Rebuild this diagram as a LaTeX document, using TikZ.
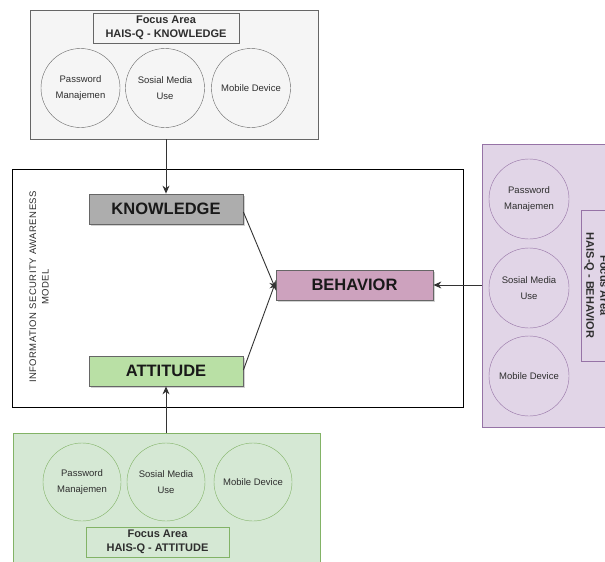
\documentclass[tikz,border=0pt]{standalone}
\usepackage{fontspec}
\setmainfont{Liberation Sans}
\usetikzlibrary{shadows,arrows.meta}
\definecolor{grayfill}{HTML}{F5F5F5}
\definecolor{grayline}{HTML}{666666}
\definecolor{knfill}{HTML}{ADADAD}
\definecolor{bhfill}{HTML}{CDA2BE}
\definecolor{atfill}{HTML}{B9E0A5}
\definecolor{purfill}{HTML}{E1D5E7}
\definecolor{purline}{HTML}{9673A6}
\definecolor{grnfill}{HTML}{D5E8D4}
\definecolor{grnline}{HTML}{82B366}
\definecolor{txt}{HTML}{2E2E2E}
\tikzset{
  item/.style={circle, draw, minimum size=79pt, inner sep=0pt, align=center,
    text=txt, font=\fontsize{9.5}{16}\selectfont},
  titlebox/.style={draw, thick, minimum width=146pt, minimum height=30pt, inner sep=0pt,
    align=center, font=\bfseries\fontsize{11}{14}\selectfont, text=txt},
  factor/.style={draw=grayline, thick, minimum width=154pt, minimum height=30pt, inner sep=0pt,
    font=\bfseries\fontsize{16.5}{18}\selectfont, text=black!90,
    drop shadow={shadow xshift=1.5pt, shadow yshift=-1.5pt, opacity=0.35}},
  conn/.style={-{Stealth[length=8pt,width=7pt]}, line width=0.9pt, draw=black!80}
}
\begin{document}
\begin{tikzpicture}[x=1pt,y=-1pt]
\useasboundingbox (0,0) rectangle (605,562);
\clip (0,0) rectangle (605,562);
% top knowledge focus area
\node[draw=grayline, fill=grayfill, thick, minimum width=288pt, minimum height=129pt, inner sep=0pt] (kfa) at (174,74.5) {};
\node[titlebox, draw=grayline, fill=grayfill] (kft) at (166,28) {Focus Area\\HAIS-Q - KNOWLEDGE};
\node[item, draw=grayline] (k1) at (80.5,88) {Password\\Manajemen};
\node[item, draw=grayline] (k2) at (165,88) {Sosial Media\\Use};
\node[item, draw=grayline] (k3) at (251,88) {Mobile Device};
% main model box
\node[draw=black, fill=white, thick, minimum width=451pt, minimum height=238pt, inner sep=0pt] (model) at (237.5,288) {};
\node[rotate=90, align=center, text=txt, font=\addfontfeatures{LetterSpace=5}\fontsize{9.5}{12.5}\selectfont] (mlabel) at (39,287) {INFORMATION SECURITY AWARENESS\\MODEL};
\node[factor, fill=knfill] (kn) at (166,209) {KNOWLEDGE};
\node[factor, fill=bhfill, minimum width=157pt] (bh) at (354.5,285) {BEHAVIOR};
\node[factor, fill=atfill] (at) at (166,371) {ATTITUDE};
% right behavior focus area
\node[draw=purline, fill=purfill, thick, minimum width=140pt, minimum height=283pt, inner sep=0pt] (bfa) at (552,285.5) {};
\node[item, draw=purline, minimum size=80pt] (b1) at (529,199) {Password\\Manajemen};
\node[item, draw=purline, minimum size=80pt] (b2) at (529,288) {Sosial Media\\Use};
\node[item, draw=purline, minimum size=80pt] (b3) at (529,376) {Mobile Device};
\node[titlebox, draw=purline, fill=purfill, rotate=-90, minimum width=151pt] (bft) at (596,285.5) {Focus Area\\HAIS-Q - BEHAVIOR};
% bottom attitude focus area
\node[draw=grnline, fill=grnfill, thick, minimum width=307pt, minimum height=140pt, inner sep=0pt] (afa) at (166.5,503) {};
\node[item, draw=grnline, minimum size=78pt] (a1) at (82,482) {Password\\Manajemen};
\node[item, draw=grnline, minimum size=78pt] (a2) at (166,482) {Sosial Media\\Use};
\node[item, draw=grnline, minimum size=78pt] (a3) at (253,482) {Mobile Device};
\node[titlebox, draw=grnline, fill=grnfill, minimum width=143pt] (aft) at (157.5,542) {Focus Area\\HAIS-Q - ATTITUDE};
% connectors
\draw[conn] (kfa.south -| kn.north) -- (kn.north);
\draw[conn] (afa.north -| at.south) -- (at.south);
\draw[conn] (bfa.west |- bh.east) -- (bh.east);
\draw[conn] ([yshift=-3pt]kn.east) -- ([yshift=-4pt]bh.west);
\draw[conn] ([yshift=1pt]at.east) -- ([yshift=3pt]bh.west);
\end{tikzpicture}
\end{document}
